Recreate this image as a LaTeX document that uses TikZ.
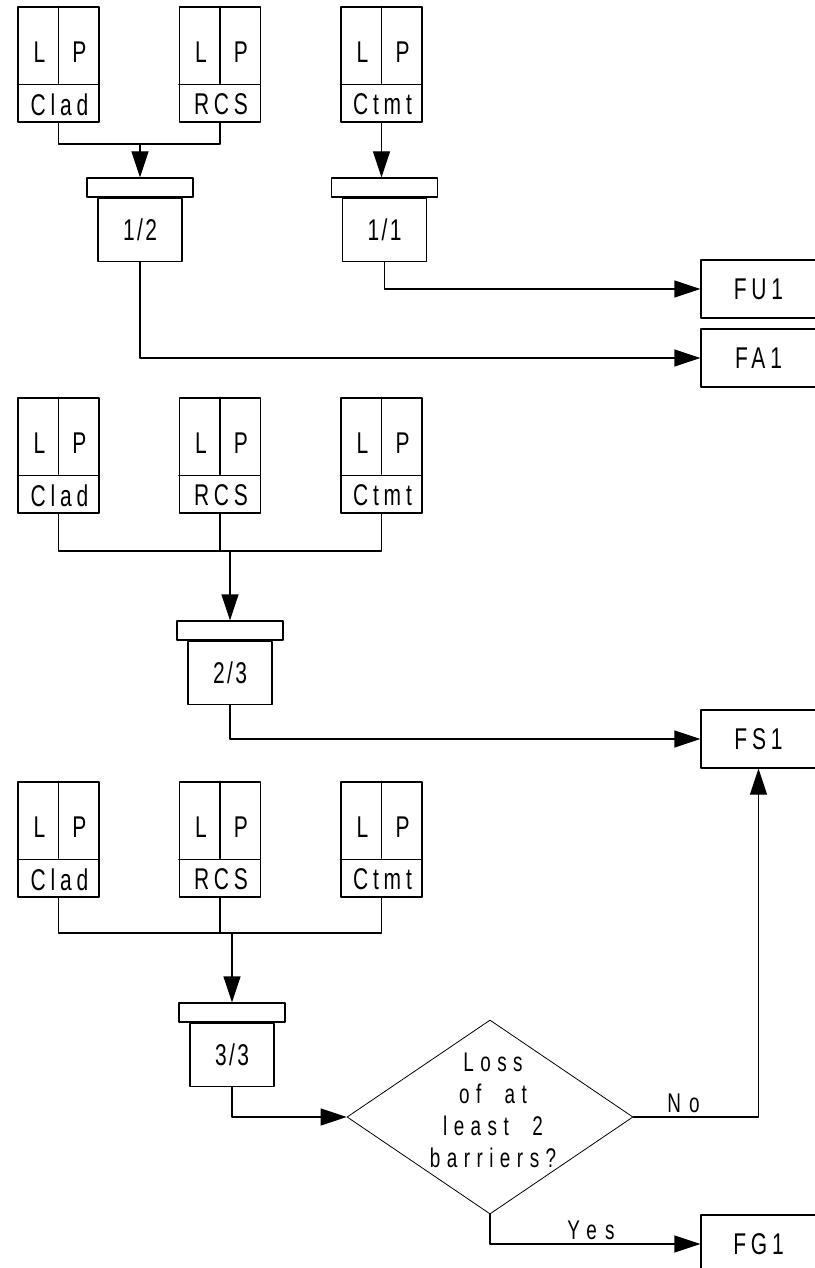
\documentclass[tikz,border=0pt]{standalone}
\usepackage{fontspec}
\setmainfont{Liberation Sans}[FakeStretch=0.7,LetterSpace=16]
\newfontfamily\qfont{Liberation Sans}[FakeStretch=0.7,LetterSpace=24,WordSpace=2]
\usepackage{tikz}
\usetikzlibrary{arrows.meta,positioning,shapes.geometric}

\begin{document}
\begin{tikzpicture}[line cap=round,line join=round,>={Triangle[length=26pt,width=17pt]},
x=1pt,y=-1pt,line width=1.3pt,font=\fontsize{30}{36}\selectfont,
barrier/.style={draw,minimum width=81pt,minimum height=115pt,inner sep=0pt},
gatebar/.style={draw,minimum width=106pt,minimum height=19pt,inner sep=0pt},
gatebody/.style={draw,minimum width=84pt,minimum height=63pt,inner sep=0pt,
  font=\fontsize{30}{36}\selectfont\addfontfeature{LetterSpace=8}},
outbox/.style={draw,minimum width=115pt,minimum height=58pt,inner sep=0pt},
decision/.style={draw,diamond,line width=0.8pt,minimum width=286pt,minimum height=194pt,inner sep=0pt},
qtext/.style={align=center,font=\qfont\fontsize{27}{32}\selectfont},
small/.style={font=\fontsize{27}{30}\selectfont\addfontfeature{LetterSpace=30}}]
\useasboundingbox[fill=white] (0,0) rectangle (814,1268);
\foreach \row/\yc in {A/64.5,B/455.5,C/839.5}
\foreach \nm/\xc/\lbl in {clad/58.5/Clad,rcs/220/RCS,ctmt/381.5/Ctmt} {
\node[barrier] (\nm\row) at (\xc,\yc) {};
\draw (\nm\row.north) -- ++(0,77);
\draw (\nm\row.south west) ++(0,-38) -- ++(81,0);
\node (\nm\row-l) at ([xshift=-19pt,yshift=-46pt]\nm\row.north) {L};
\node (\nm\row-p) at ([xshift=21pt,yshift=-46pt]\nm\row.north) {P};
\node (\nm\row-t) at ([xshift=1pt,yshift=18pt]\nm\row.south) {\lbl};
}
\node[gatebar] (g12top) at (140,187.5) {};
\node[gatebody,below=0pt of g12top] (g12) {1/2};
\node[gatebar] (g11top) at (384.5,187.5) {};
\node[gatebody,below=0pt of g11top] (g11) {1/1};
\node[gatebar] (g23top) at (230,630.5) {};
\node[gatebody,below=0pt of g23top] (g23) {2/3};
\node[gatebar] (g33top) at (232,1012.5) {};
\node[gatebody,below=0pt of g33top] (g33) {3/3};
\node[outbox] (fu1) at (758.5,289) {FU1};
\node[outbox] (fa1) at (758.5,358) {FA1};
\node[outbox] (fs1) at (758.5,739) {FS1};
\node[outbox] (fg1) at (758.5,1244) {FG1};
\node[decision] (dia) at (490,1117) {};
\node[qtext] (diatext) at (493,1110) {Loss\\of at\\least 2\\barriers?};
\coordinate (jA) at (140,144);
\coordinate (jB) at (230,551);
\coordinate (jC) at (232,933);
\draw (cladA.south) |- (jA) -| (rcsA.south);
\draw[->] (jA) -- (g12top.north);
\draw[->] (ctmtA.south) -- (ctmtA.south |- g11top.north);
\draw[->] (g11.south) |- (fu1.west);
\draw[->] (g12.south) |- (fa1.west);
\draw (cladB.south) |- (jB) -| (ctmtB.south);
\draw (rcsB.south) -- (rcsB.south |- jB);
\draw[->] (jB) -- (jB |- g23top.north);
\draw[->] (g23.south) |- (fs1.west);
\draw (cladC.south) |- (jC) -| (ctmtC.south);
\draw (rcsC.south) -- (rcsC.south |- jC);
\draw[->] (jC) -- (jC |- g33top.north);
\draw[->] (g33.south) |- (dia.west);
\draw[->] (dia.east) -| node[small,pos=0.2,above] (no) {No} (fs1.south);
\draw[->] (dia.south) |- node[small,pos=0.74,above] (yes) {Yes} (fg1.west);
\end{tikzpicture}
\end{document}
